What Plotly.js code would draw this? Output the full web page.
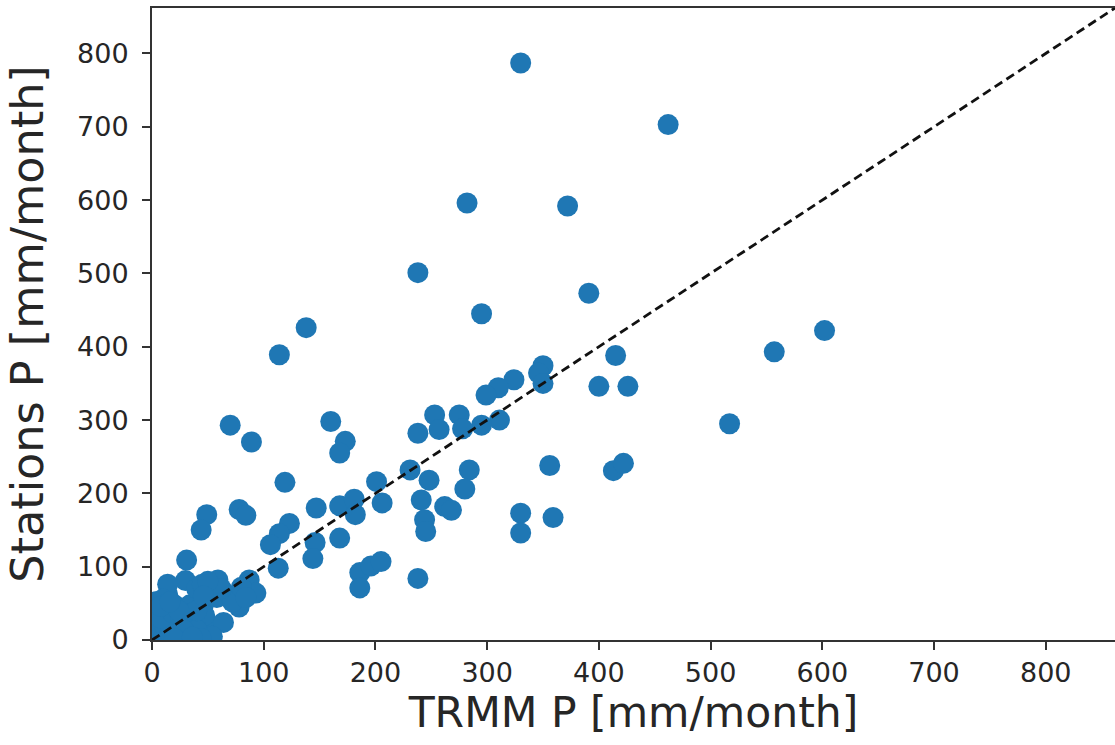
<!DOCTYPE html>
<html>
<head>
<meta charset="utf-8">
<script src="https://cdn.plot.ly/plotly-3.0.1.min.js"></script>
<style>html,body{margin:0;padding:0;background:#fff;}#chart{width:1115px;height:745px;}</style>
</head>
<body>
<div id="chart"></div>
<script>
// TRMM monthly precipitation (x) vs station precipitation (y), mm/month
const trmm = [
  330, 462, 282, 372, 238, 391, 295, 138, 114, 602, 557, 415, 350, 346, 350, 324, 310, 299, 400, 426,
  517, 70, 89, 160, 173, 168, 311, 295, 275, 278, 253, 257, 238, 356, 413, 422, 231, 248, 284, 280,
  241, 262, 268, 244, 245, 330, 330, 359, 238, 119, 49, 44, 78, 84, 147, 168, 181, 182, 201, 206,
  123, 114, 106, 146, 144, 168, 113, 186, 186, 196, 205, 31,
  3, 6, 2, 9, 11, 5, 3, 14, 12, 16, 19, 20, 24, 30, 34, 30, 40, 36, 34, 42,
  46, 48, 50, 52, 47, 58, 59, 14, 45, 87, 93, 78, 64, 54, 70,
  8, 18, 26, 10, 40, 28, 20, 44, 36, 72, 62, 50, 40, 24, 8, 16, 46, 80, 84
];
const stations = [
  787, 703, 596, 592, 501, 473, 445, 426, 389, 422, 393, 388, 374, 364, 350, 355, 344, 334, 346, 346,
  295, 293, 270, 298, 271, 255, 300, 293, 307, 288, 307, 287, 282, 238, 231, 241, 232, 218, 232, 206,
  191, 182, 177, 164, 148, 173, 146, 167, 84, 215, 171, 150, 178, 170, 180, 183, 192, 171, 216, 187,
  159, 145, 130, 133, 111, 139, 98, 92, 71, 101, 107, 109,
  4, 14, 26, 6, 20, 38, 52, 62, 42, 9, 28, 48, 16, 4, 48, 81, 70, 36, 22, 8,
  48, 28, 62, 14, 34, 58, 82, 76, 76, 82, 64, 45, 24, 5, 60,
  30, 38, 30, 56, 14, 14, 2, 2, 4, 52, 70, 80, 40, 40, 46, 52, 60, 72, 58
];
const oneToOne = [0, 900];
const xTicks = [0, 100, 200, 300, 400, 500, 600, 700, 800];
const yTicks = [0, 100, 200, 300, 400, 500, 600, 700, 800];
const xTitle = 'TRMM P [mm/month]';
const yTitle = 'Stations P [mm/month]';

const font = 'DejaVu Sans, sans-serif';
const traces = [
  {
    x: trmm, y: stations, type: 'scatter', mode: 'markers',
    marker: {color: '#1f77b4', size: 21, line: {width: 0}},
    hoverinfo: 'skip'
  },
  {
    x: oneToOne, y: oneToOne, type: 'scatter', mode: 'lines',
    line: {color: '#111', width: 2.8, dash: '9px,5px'},
    hoverinfo: 'skip'
  }
];
const axisCommon = {
  showgrid: false, zeroline: false, showline: true, linecolor: '#333', linewidth: 2,
  ticks: 'outside', ticklen: 8, tickwidth: 2, tickcolor: '#333',
  tickfont: {family: font, size: 27, color: '#262626'}
};
const layout = {
  width: 1115, height: 745,
  margin: {l: 152, r: 0, t: 8, b: 105},
  paper_bgcolor: '#fff', plot_bgcolor: '#fff',
  showlegend: false,
  xaxis: Object.assign({}, axisCommon, {
    range: [0, 862], tickvals: xTicks, ticktext: xTicks.map(String), mirror: true,
    title: {text: xTitle, font: {family: font, size: 42.5, color: '#262626'}, standoff: 9}
  }),
  yaxis: Object.assign({}, axisCommon, {
    range: [0, 862], tickvals: yTicks, ticktext: yTicks.map(String),
    ticklabelstandoff: 8,
    title: {text: yTitle, font: {family: font, size: 44.5, color: '#262626'}, standoff: 19}
  })
};
Plotly.newPlot('chart', traces, layout, {displayModeBar: false, staticPlot: true});
</script>
</body>
</html>
